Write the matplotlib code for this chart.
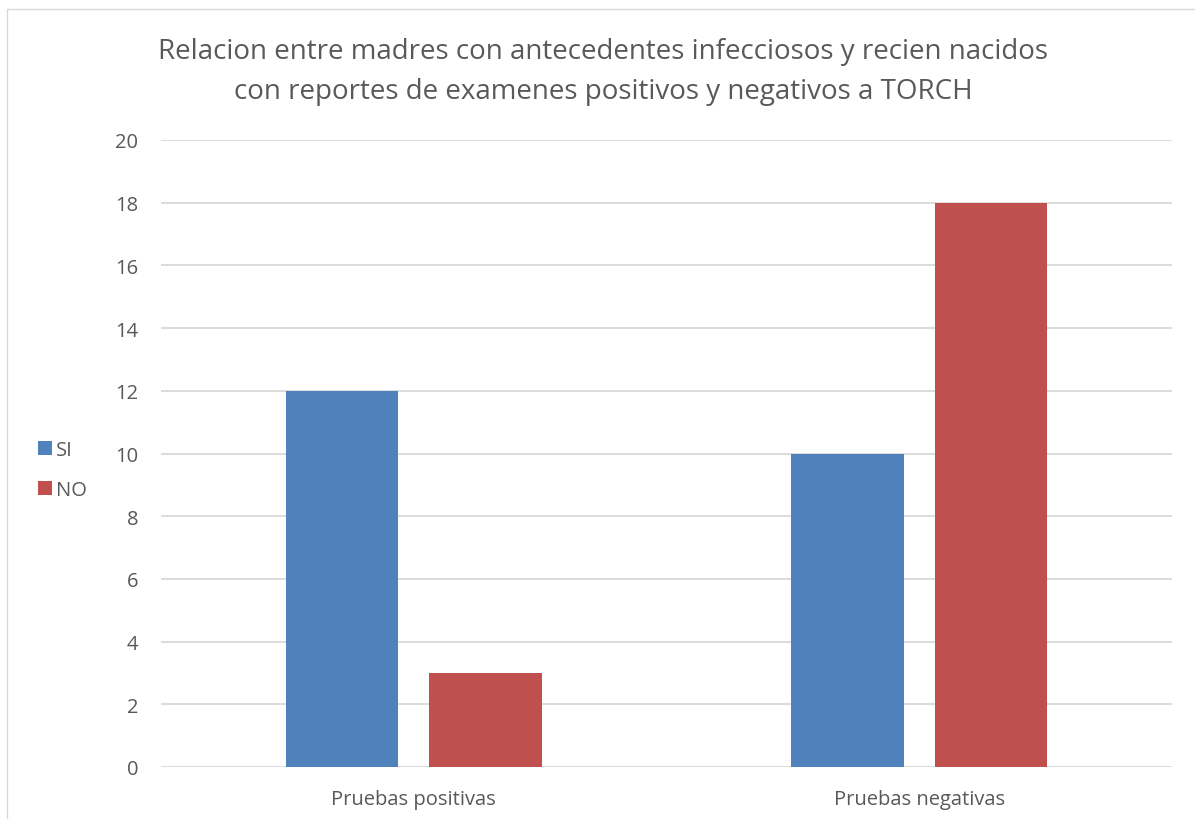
import matplotlib.pyplot as plt
import numpy as np
from matplotlib.patches import Rectangle

plt.rcParams['font.family'] = ['Open Sans', 'DejaVu Sans']

# data
categories = ["Pruebas positivas", "Pruebas negativas"]
series_names = ["SI", "NO"]
si_values = [12, 10]
no_values = [3, 18]
colors = ["#4F81BD", "#C0504D"]
text_color = "#595959"

fig = plt.figure(figsize=(11.95, 8.2), dpi=100)
ax = fig.add_axes([161 / 1195, 52 / 820, (1172 - 161) / 1195, (768 - 141) / 820])

x = np.arange(len(categories))
bw = 0.223
off = 0.142
ax.bar(x - off, si_values, bw, color=colors[0], label=series_names[0], zorder=3)
ax.bar(x + off, no_values, bw, color=colors[1], label=series_names[1], zorder=3)

ax.set_xlim(-0.5, 1.5)
ax.set_ylim(0, 20)
ax.set_yticks(range(0, 21, 2))
ax.set_xticks(x)
ax.set_xticklabels(categories)
ax.yaxis.grid(True, color="#D9D9D9", linewidth=1.3, zorder=0)
for s in ax.spines.values():
    s.set_visible(False)
ax.tick_params(axis="both", length=0, colors=text_color, labelsize=14.5)
ax.tick_params(axis="y", pad=16.5)
ax.tick_params(axis="x", pad=16)

fig.text(0.505, 0.912, "Relacion entre madres con antecedentes infecciosos y recien nacidos\n"
         "con reportes de examenes positivos y negativos a TORCH",
         ha="center", va="center", fontsize=20, color=text_color, linespacing=1.55)

leg = fig.legend(loc="center left", bbox_to_anchor=(20 / 1195, 1 - 471 / 820), frameon=False,
                 fontsize=14.5, handlelength=0.7, handleheight=0.7, handletextpad=0.2,
                 labelspacing=1.0)
for t in leg.get_texts():
    t.set_color(text_color)

# chart border
fig.patches.append(Rectangle((7 / 1195, -0.01), 1.2, 1 - 10 / 820 + 0.01, transform=fig.transFigure,
                             fill=False, edgecolor="#D9D9D9", linewidth=1))

fig.savefig("out.png", dpi=100)
